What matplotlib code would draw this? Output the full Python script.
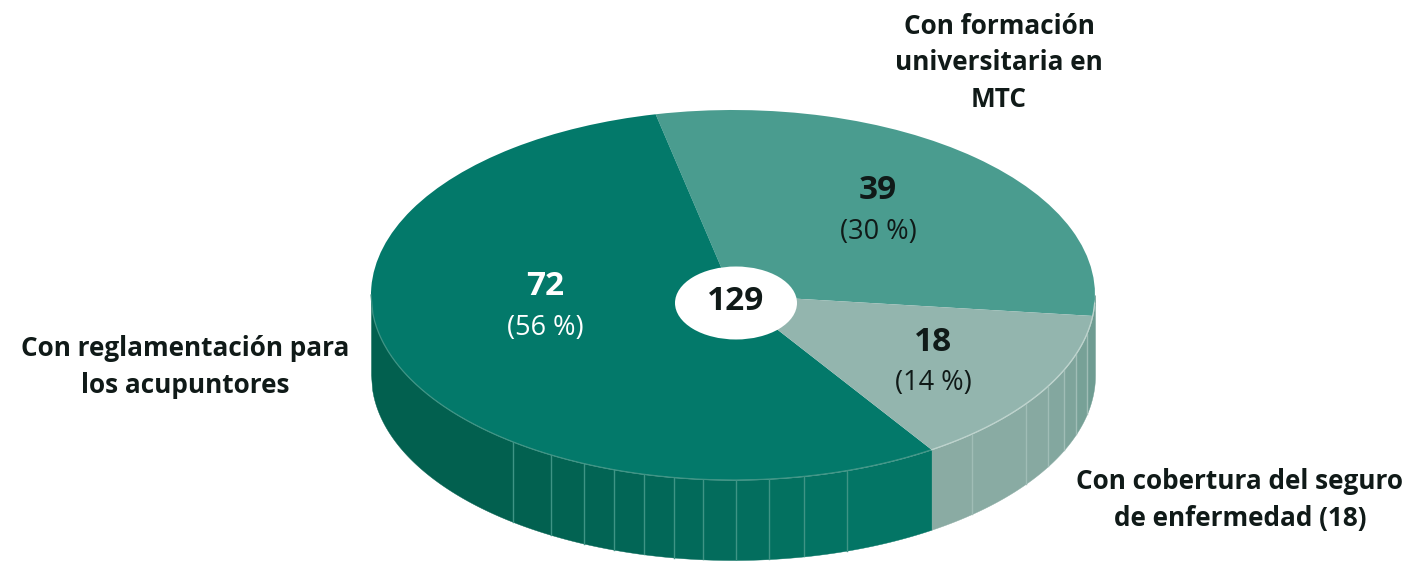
import numpy as np
import matplotlib
matplotlib.use("Agg")
import matplotlib.pyplot as plt
from matplotlib.patches import Ellipse

# --- data ---
values = [39, 72, 18]
colors = ["#4a9c8f", "#03796a", "#93b5ae"]
count_labels = ["39", "72", "18"]
pct_labels = ["(30 %)", "(56 %)", "(14 %)"]
label_colors = ["#101a18", "#ffffff", "#101a18"]
total_label = "129"
cat_labels = ["Con formación\nuniversitaria en\nMTC",
              "Con reglamentación para\nlos acupuntores",
              "Con cobertura del seguro\nde enfermedad (18)"]

# --- layout (pixels of the 1412x561 figure) ---
W, H = 1412, 561
CX, CY, RX, RY, DEPTH = 733, 295, 362, 185, 80
START = -6.5
FONT = "Open Sans"

fig = plt.figure(figsize=(W / 100, H / 100), dpi=100, facecolor="white")
ax = fig.add_axes([0, 0, 1, 1])

def px(x, y):
    return (x - CX) / RX, (CY - y) / RY

depth = DEPTH / RY

# rim facets: x position of the vertical ribs
main_ribs = [513, 551, 584, 614, 644, 674, 703, 736, 769, 804, 847]
light_ribs = [972, 1026, 1048, 1064, 1076, 1087]
main_edge = np.cos(np.radians(START - values[2] / sum(values) * 360))
right_edge = 1.0

def rim(x0, x1, color):
    xs = np.linspace(x0, x1, 120)
    top = -np.sqrt(np.clip(1 - xs ** 2, 0, None))
    ax.fill_between(xs, top, top - depth, color=color, lw=0.3, zorder=1)

dark = np.array(matplotlib.colors.to_rgb("#02604f"))
lite = np.array(matplotlib.colors.to_rgb("#037565"))
main_x = [-1.0] + [(x - CX) / RX for x in main_ribs] + [main_edge]
for i in range(len(main_x) - 1):
    t = (i / (len(main_x) - 2)) ** 1.2
    rim(main_x[i], main_x[i + 1], tuple(dark + (lite - dark) * t))

light_x = [main_edge] + [(x - CX) / RX for x in light_ribs] + [right_edge]
ld = np.array(matplotlib.colors.to_rgb("#8aaba3"))
le = np.array(matplotlib.colors.to_rgb("#6f9c92"))
for i in range(len(light_x) - 1):
    t = (i / (len(light_x) - 2)) ** 2
    rim(light_x[i], light_x[i + 1], tuple(ld + (le - ld) * t))

for x, c in [(x, "#3f9485") for x in main_ribs] + [(x, "#a0bdb6") for x in light_ribs]:
    u = (x - CX) / RX
    t = -np.sqrt(1 - u ** 2)
    ax.plot([u, u], [t, t - depth], color=c, lw=1.0, zorder=2)

# top face
wedges, _ = ax.pie(values, colors=colors, startangle=START, radius=1,
                   counterclock=True, wedgeprops={"linewidth": 0})
for w in wedges:
    w.set_zorder(3)

# thin light line on the front edge of the top face
xe = np.linspace(-1, main_edge, 300)
ax.plot(xe, -np.sqrt(1 - xe ** 2), color="#3f9485", lw=0.9, zorder=4)
xe = np.linspace(main_edge, 0.999, 150)
ax.plot(xe, -np.sqrt(1 - xe ** 2), color="#bcd2cc", lw=0.9, zorder=4)

ax.set_aspect("auto")
ax.set_xlim(px(0, 0)[0], px(W, 0)[0])
ax.set_ylim(px(0, H)[1], px(0, 0)[1])
ax.axis("off")

# centre hole
cx, cy = px(736, 303)
ax.add_patch(Ellipse((cx, cy), 2 * 61 / RX, 2 * 36.5 / RY, fc="white", ec="none", zorder=5))
ax.text(cx, px(0, 302)[1], total_label, ha="center", va="center", fontsize=24,
        fontweight="bold", family=FONT, color="#101a18", zorder=6)

# slice labels
num_pos = [(878, 191), (545, 287), (933, 343)]
pct_pos = [(878, 232), (545, 328), (933, 383)]
for i in range(3):
    x, y = px(*num_pos[i])
    ax.text(x, y, count_labels[i], ha="center", va="center", fontsize=24, fontweight="bold",
            family=FONT, color=label_colors[i], zorder=6)
    x, y = px(*pct_pos[i])
    ax.text(x, y, pct_labels[i], ha="center", va="center", fontsize=19.5,
            family=FONT, color=label_colors[i], zorder=6)

# category labels
for (lx, ly), lab in zip([(999, 63), (185, 367), (1240, 500)], cat_labels):
    x, y = px(lx, ly)
    ax.text(x, y, lab, ha="center", va="center", fontsize=18.8, fontweight="bold",
            family=FONT, color="#101a18", linespacing=1.47)

fig.savefig("out.png", dpi=100, facecolor="white")
